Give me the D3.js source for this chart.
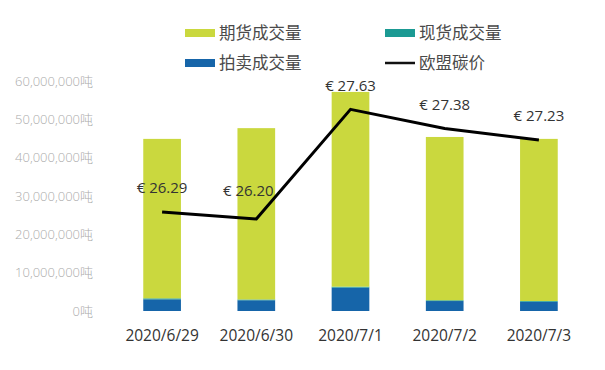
<!DOCTYPE html>
<html>
<head>
<meta charset="utf-8">
<script src="https://cdn.jsdelivr.net/npm/d3@7"></script>
<style>
  body { margin: 0; background: #fff; }
  svg { font-family: "Open Sans", "Noto Sans CJK SC", sans-serif; }
</style>
</head>
<body>
<svg id="chart" width="605" height="370"></svg>
<script>
const dates = ['2020/6/29', '2020/6/30', '2020/7/1', '2020/7/2', '2020/7/3'];
const auction = [3050000, 2800000, 6100000, 2600000, 2400000];   // 拍卖成交量
const spot = [250000, 200000, 250000, 200000, 200000];           // 现货成交量
const futures = [41600000, 44700000, 50800000, 42600000, 42300000]; // 期货成交量
const price = [26.29, 26.20, 27.63, 27.38, 27.23];               // 欧盟碳价
const yTicks = [0, 10000000, 20000000, 30000000, 40000000, 50000000, 60000000];

const colors = { futures: '#cad83e', spot: '#1b9a93', auction: '#1665a9' };

const svg = d3.select('#chart');

const x = d3.scaleBand().domain(dates).range([115, 586]).paddingInner(0.6).paddingOuter(0.3);
const y = d3.scaleLinear().domain([0, 60000000]).range([311, 81]);
const y2 = d3.scaleLinear().domain([25, 28]).range([311, 81]);

// y axis labels
svg.append('g')
  .selectAll('text')
  .data(yTicks)
  .enter().append('text')
  .attr('x', 93)
  .attr('y', d => y(d))
  .attr('dy', '0.35em')
  .attr('text-anchor', 'end')
  .attr('font-size', 13)
  .attr('font-weight', 300)
  .attr('fill', '#ababab')
  .text(d => d3.format(',')(d) + '吨');

// stacked bars
const rows = dates.map((d, i) => ({ date: d, auction: auction[i], spot: spot[i], futures: futures[i] }));
const stack = d3.stack().keys(['auction', 'spot', 'futures'])(rows);

svg.append('g')
  .selectAll('g')
  .data(stack)
  .enter().append('g')
  .attr('fill', d => colors[d.key])
  .selectAll('rect')
  .data(d => d)
  .enter().append('rect')
  .attr('x', d => x(d.data.date))
  .attr('y', d => y(d[1]))
  .attr('width', x.bandwidth())
  .attr('height', d => y(d[0]) - y(d[1]));

// x labels
svg.append('g')
  .selectAll('text')
  .data(dates)
  .enter().append('text')
  .attr('x', d => x(d) + x.bandwidth() / 2)
  .attr('y', 341)
  .attr('text-anchor', 'middle')
  .attr('font-size', 15.5)
  .attr('fill', '#333')
  .text(d => d);

// price line
const line = d3.line()
  .x((d, i) => x(dates[i]) + x.bandwidth() / 2)
  .y(d => y2(d));

svg.append('path')
  .datum(price)
  .attr('d', line)
  .attr('fill', 'none')
  .attr('stroke', '#000')
  .attr('stroke-width', 3)
  .attr('stroke-linejoin', 'round');

svg.append('g')
  .selectAll('text')
  .data(price)
  .enter().append('text')
  .attr('x', (d, i) => x(dates[i]) + x.bandwidth() / 2 - (i === 1 ? 8 : 0))
  .attr('y', (d, i) => y2(d) - (i === 1 ? 28 : 24))
  .attr('dy', '0.35em')
  .attr('text-anchor', 'middle')
  .attr('font-size', 15)
  .attr('fill', '#333')
  .text(d => '€ ' + d.toFixed(2));

// legend
const legend = [
  { name: '期货成交量', type: 'rect', color: colors.futures, x: 185, y: 33 },
  { name: '现货成交量', type: 'rect', color: colors.spot, x: 385, y: 33 },
  { name: '拍卖成交量', type: 'rect', color: colors.auction, x: 185, y: 63 },
  { name: '欧盟碳价', type: 'line', color: '#111', x: 385, y: 63 }
];

const lg = svg.append('g')
  .selectAll('g')
  .data(legend)
  .enter().append('g')
  .attr('transform', d => `translate(${d.x},${d.y})`);

lg.filter(d => d.type === 'rect').append('rect')
  .attr('x', 0).attr('y', -4).attr('width', 30).attr('height', 8)
  .attr('fill', d => d.color);

lg.filter(d => d.type === 'line').append('line')
  .attr('x1', 0).attr('x2', 30).attr('y1', 0).attr('y2', 0)
  .attr('stroke', d => d.color).attr('stroke-width', 2.5);

lg.append('text')
  .attr('x', 34)
  .attr('dy', '0.35em')
  .attr('font-size', 16.5)
  .attr('fill', '#4a4a4a')
  .attr('font-family', '"Noto Sans CJK SC", sans-serif')
  .text(d => d.name);
</script>
</body>
</html>
